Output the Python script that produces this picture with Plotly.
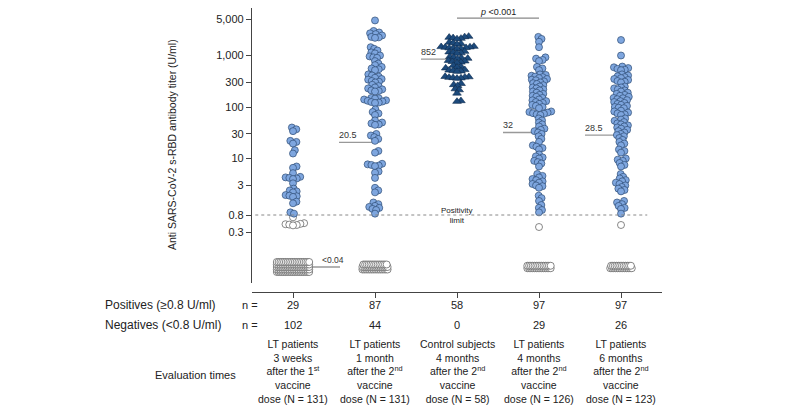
import math
import numpy as np
import plotly.graph_objects as go

# ---- data (U/ml) ----
pos_lt_3w = [40, 37, 34, 22, 21, 19.5, 14.5, 12.5, 7, 6.6, 5.2, 4.4, 4.3, 4.2, 4.1, 4.0,
             3.3, 2.6, 2.4, 2.3, 2.2, 1.95, 1.9, 1.85, 1.8, 1.45, 1.35, 0.9, 0.85]
pos_lt_1m = [4800, 3000, 2800, 2700, 2600, 2450, 2300, 2250, 2200, 1450, 1350, 1250, 1150, 1100,
             1000, 960, 920, 900, 780, 700, 650, 600, 560, 540, 520,
             430, 410, 390, 370, 350, 340, 320, 310, 300, 270, 255, 240, 230, 220, 210, 205, 200,
             150, 148, 145, 140, 135, 132, 128, 125, 122, 120, 90, 80, 75, 70, 55, 50, 48, 46, 45,
             30, 28, 26, 24, 22, 14, 13, 7.9, 7.7, 7.5, 7.3, 7.1, 5.6, 5.3, 4.2, 2.7, 2.4, 2.2,
             1.4, 1.3, 1.2, 1.15, 1.1, 1.05, 1.0, 0.85]
pos_ctrl_4m = [2350, 2300, 2250, 2200, 2150, 2100, 1800, 1750, 1700, 1650,
               1500, 1480, 1460, 1440, 1420, 1400, 1380, 1360, 1340, 1200, 1170, 1150, 1120, 1100,
               950, 920, 900, 880, 860, 800, 780, 760, 740, 720, 640, 610, 590, 570,
               530, 520, 510, 500, 490, 390, 385, 380, 375, 370, 365, 360,
               285, 270, 260, 225, 215, 185, 132, 128]
pos_lt_4m = [2300, 2100, 1850, 1450, 920, 870, 820, 780, 600, 560, 520,
             430, 420, 405, 390, 380, 365, 350, 340, 330, 315, 300, 290, 280, 265, 250,
             240, 230, 220, 210, 200, 190, 180, 172, 165, 158, 150,
             140, 135, 130, 125, 120, 115, 110, 105, 100, 95, 82, 80, 78, 76, 74, 72, 70,
             60, 55, 50, 46, 42, 38, 36, 34, 32, 30, 27, 24, 21, 18, 17, 16, 15,
             12, 11, 10.5, 10, 9, 8.5, 8, 7, 5, 4.6, 4.3, 4, 3.8, 3.6, 3.4, 3.2, 3, 2.9, 2.7,
             1.9, 1.7, 1.5, 1.25, 1.1, 1.0, 0.9]
pos_lt_6m = [2000, 1000, 610, 590, 570, 550, 530, 520,
             430, 410, 395, 380, 365, 350, 335, 320, 310, 300,
             250, 240, 230, 220, 210, 200, 190, 180, 172, 165, 158, 150,
             148, 142, 136, 130, 125, 120, 115, 110, 105, 100, 97, 95, 85, 82, 78, 75, 72, 70,
             60, 57, 54, 51, 48, 46, 44, 42, 40, 38, 36, 34, 32, 30, 28.5, 27, 25, 23, 21, 19.5, 18,
             15, 14, 13, 10, 9.5, 9, 8.2, 7.5, 7, 5, 4.4, 4.1, 3.8, 3.6, 3.4, 3.2, 3.0, 2.8, 2.6,
             2.45, 2.3, 1.5, 1.4, 1.3, 1.2, 1.1, 1.05, 0.85]
positives = [pos_lt_3w, pos_lt_1m, pos_ctrl_4m, pos_lt_4m, pos_lt_6m]

# negatives between 0.04 and 0.8, and the count of values below 0.04
neg_mid = [[0.7, 0.5, 0.48, 0.47, 0.46, 0.45, 0.44], [], [], [0.4], [0.45]]
neg_floor_n = [95, 44, 0, 28, 25]
floor_value = 0.04

n_pos = [29, 87, 58, 97, 97]
n_neg = [102, 44, 0, 29, 26]
medians = [0.04, 20.5, 852, 32, 28.5]
median_text = ["<0.04", "20.5", "852", "32", "28.5"]
group_labels = [
    "LT patients<br>3 weeks<br>after the 1<sup>st</sup><br>vaccine<br>dose (N = 131)",
    "LT patients<br>1 month<br>after the 2<sup>nd</sup><br>vaccine<br>dose (N = 131)",
    "Control subjects<br>4 months<br>after the 2<sup>nd</sup><br>vaccine<br>dose (N = 58)",
    "LT patients<br>4 months<br>after the 2<sup>nd</sup><br>vaccine<br>dose (N = 126)",
    "LT patients<br>6 months<br>after the 2<sup>nd</sup><br>vaccine<br>dose (N = 123)",
]
ytick_vals = [0.3, 0.8, 3, 10, 30, 100, 300, 1000, 5000]
ytick_text = ["0.3", "0.8", "3", "10", "30", "100", "300", "1,000", "5,000"]
limit = 0.8

# ---- geometry (page pixels; the page body adds an 8px margin) ----
W, H, OFF = 787, 410, 8
FW, FH = W - OFF, H - OFF
X0, X1, YT, YB, Y_LIM = 252, 662, 8, 283, 215
PX_X = (X1 - X0) / 5.0
PX_Y = 51.5                                  # pixels per decade
K = 0.776                                    # compression below the limit
L0 = math.log10(limit)


def px(x):
    return (x - OFF) / FW


def py(y):
    return 1 - (y - OFF) / FH


def ty(v):
    lv = np.log10(np.asarray(v, float))
    return np.where(lv >= L0, lv, L0 - K * (L0 - lv))


y_range = [L0 - (YB - Y_LIM) / PX_Y, L0 + (Y_LIM - YT) / PX_Y]


def swarm(vals, d):
    ys = ty(vals) * PX_Y
    xs = np.zeros(len(ys))
    placed = []
    for i in np.argsort(ys):
        y = ys[i]
        cands = [0.0]
        for qx, qy in placed:
            dy = abs(qy - y)
            if dy < d:
                dx = math.sqrt(d * d - dy * dy)
                cands += [qx + dx, qx - dx]
        cands.sort(key=abs)
        for c in cands:
            if all((c - qx) ** 2 + (y - qy) ** 2 >= d * d - 1e-6 for qx, qy in placed):
                xs[i] = c
                break
        placed.append((xs[i], y))
    return xs / PX_X


def floor_rows(n, step_x=1.8, step_y=2.5, max_row=20):
    rows = math.ceil(n / max_row)
    per = math.ceil(n / rows)
    dx, dy = [], []
    for k in range(n):
        r, c = divmod(k, per)
        cnt = min(per, n - r * per)
        dx.append((c - (cnt - 1) / 2) * step_x / PX_X)
        dy.append((r - (rows - 1) / 2) * step_y / PX_Y)
    return np.array(dx), np.array(dy)


fig = go.Figure()
blue = dict(size=7, color="#7EA6DF", line=dict(color="#2E4C74", width=0.7))
white = dict(size=7, color="white", line=dict(color="#555555", width=0.7))
tri = dict(size=7.5, symbol="triangle-up", color="#1C4A7C", line=dict(color="#0E2A4C", width=0.6))

for g in range(5):
    vals = list(positives[g]) + list(neg_mid[g])
    is_pos = np.array([True] * len(positives[g]) + [False] * len(neg_mid[g]))
    offs = swarm(vals, 4.0 if g == 2 else 3.8)
    yv = ty(vals)
    if neg_floor_n[g]:
        fx, fy = floor_rows(neg_floor_n[g])
        fig.add_trace(go.Scatter(x=g + fx, y=ty(floor_value) + fy, mode="markers",
                                 marker=white, hoverinfo="skip", showlegend=False))
    if (~is_pos).any():
        fig.add_trace(go.Scatter(x=g + offs[~is_pos], y=yv[~is_pos], mode="markers",
                                 marker=white, showlegend=False))
    fig.add_trace(go.Scatter(x=g + offs[is_pos], y=yv[is_pos], mode="markers",
                             marker=tri if g == 2 else blue, showlegend=False))

# median lines and labels
for g in range(5):
    my = float(ty(medians[g]))
    if g == 0:
        xa, xb = g, g + 47 / PX_X
        fig.add_annotation(x=xb, y=my, text=median_text[g], showarrow=False, xanchor="right",
                           yanchor="bottom", xshift=6, font=dict(size=8.5, color="#333"))
    else:
        xa, xb = g - 36 / PX_X, g
        fig.add_annotation(x=xa, y=my, text=median_text[g], showarrow=False, xanchor="left",
                           yanchor="bottom", xshift=-2, font=dict(size=9, color="#333"))
    fig.add_shape(type="line", x0=xa, x1=xb, y0=my, y1=my, layer="below",
                  line=dict(color="#999999", width=1.3))

# positivity limit
ylim = float(ty(limit))
fig.add_shape(type="line", x0=-0.46, x1=4.32, y0=ylim, y1=ylim,
              line=dict(color="#888888", width=1, dash="dot"))
fig.add_annotation(x=2, y=ylim, text="Positivity<br>limit", showarrow=False,
                   font=dict(size=8, color="#222"))

# p-value bracket between control and LT 4 months
pb = float(ty(5300))
fig.add_shape(type="line", x0=2, x1=3, y0=pb, y1=pb, line=dict(color="#888888", width=1.2))
fig.add_annotation(x=2.5, y=pb, text="<i>p</i> <0.001", showarrow=False, yanchor="middle",
                   yshift=6, font=dict(size=9, color="#222"))

# table under the chart
txt = dict(showarrow=False, yanchor="middle", font=dict(size=11, color="#222"))
row_font = dict(size=12, color="#222")
fig.add_annotation(xref="paper", yref="paper", x=px(103), y=py(305), xanchor="left",
                   text="Positives (≥0.8 U/ml)", showarrow=False, yanchor="middle", font=row_font)
fig.add_annotation(xref="paper", yref="paper", x=px(103), y=py(325), xanchor="left",
                   text="Negatives (<0.8 U/ml)", showarrow=False, yanchor="middle", font=row_font)
fig.add_annotation(xref="paper", yref="paper", x=px(238), y=py(375), xanchor="right",
                   text="Evaluation times", **txt)
for yy in (305, 325):
    fig.add_annotation(xref="paper", yref="paper", x=px(250), y=py(yy), xanchor="center",
                       text="n =", **txt)
for g in range(5):
    fig.add_annotation(x=g, yref="paper", y=py(305), xanchor="center", text=str(n_pos[g]), **txt)
    fig.add_annotation(x=g, yref="paper", y=py(325), xanchor="center", text=str(n_neg[g]), **txt)
    fig.add_annotation(x=g, yref="paper", y=py(371), xanchor="center", text=group_labels[g],
                       showarrow=False, yanchor="middle", font=dict(size=10.5, color="#222"))

fig.add_annotation(xref="paper", yref="paper", x=px(172), y=py(145), textangle=-90,
                   xanchor="center", yanchor="middle",
                   text="Anti SARS-CoV-2 s-RBD antibody titer (U/ml)", showarrow=False,
                   font=dict(size=10.5, color="#222"))

fig.update_layout(
    width=FW, height=FH, margin=dict(l=0, r=0, t=0, b=0),
    paper_bgcolor="white", plot_bgcolor="white",
    font=dict(family="Liberation Sans, Arial, sans-serif", color="#222"),
    xaxis=dict(domain=[px(X0), px(X1)], range=[-0.5, 4.5], anchor="free",
               position=py(292), tickvals=list(range(5)), showticklabels=False,
               ticks="outside", ticklen=5, tickcolor="#444", showline=True, linecolor="#444",
               linewidth=1.2, showgrid=False, zeroline=False),
    yaxis=dict(domain=[py(YB), py(YT)], range=y_range,
               tickvals=[float(v) for v in ty(ytick_vals)], ticktext=ytick_text,
               ticks="outside", ticklen=5, tickcolor="#444", showline=True, linecolor="#444",
               linewidth=1.2, showgrid=False, zeroline=False, tickfont=dict(size=11)),
)

fig.write_html("out.html")
